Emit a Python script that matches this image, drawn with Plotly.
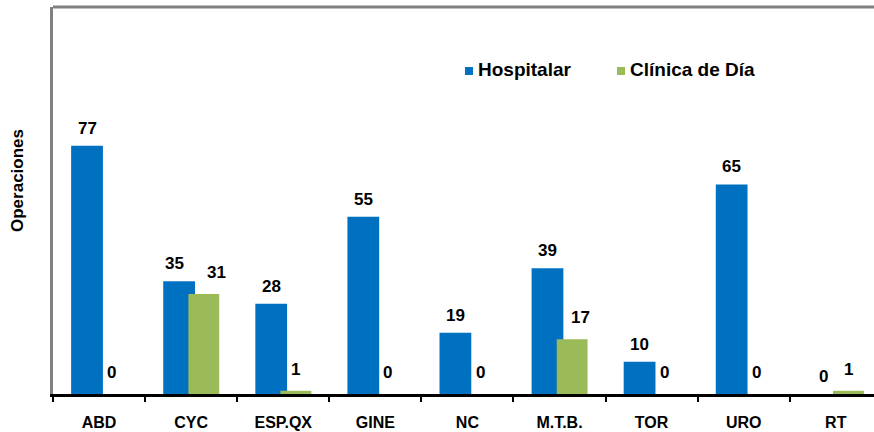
import plotly.graph_objects as go

categories = ["ABD", "CYC", "ESP.QX", "GINE", "NC", "M.T.B.", "TOR", "URO", "RT"]
hospitalar = [77, 35, 28, 55, 19, 39, 10, 65, 0]
clinica = [0, 31, 1, 0, 0, 17, 0, 0, 1]
series_names = ["Hospitalar", "Clínica de Día"]

FONT = "Liberation Sans, Arial, sans-serif"
BLUE = "#0070C0"
GREEN = "#9BBB59"

OFF_B, W_B = -0.303, 0.345
OFF_G, W_G = -0.03, 0.335

# small manual nudges of some data labels (pixels), as in the original
green_label_xshift = {1: 13, 5: 8}
blue_label_xshift = {1: -5}

fig = go.Figure()
fig.add_trace(go.Bar(
    x=categories, y=hospitalar, name=series_names[0],
    marker=dict(color=BLUE, line=dict(width=0)),
    offset=OFF_B, width=W_B, showlegend=False,
))
fig.add_trace(go.Bar(
    x=categories, y=clinica, name=series_names[1],
    marker=dict(color=GREEN, line=dict(width=0)),
    offset=OFF_G, width=W_G, showlegend=False,
))

label_font = dict(family=FONT, size=17, color="black", weight="bold")
annotations = []
for i, (h, c) in enumerate(zip(hospitalar, clinica)):
    annotations.append(dict(x=i + OFF_B + W_B / 2, y=h, xref="x", yref="y",
                            text=str(h), showarrow=False, yanchor="bottom",
                            yshift=6, xshift=blue_label_xshift.get(i, 0), font=label_font))
    annotations.append(dict(x=i + OFF_G + W_G / 2, y=c, xref="x", yref="y",
                            text=str(c), showarrow=False, yanchor="bottom",
                            yshift=10, xshift=green_label_xshift.get(i, 0), font=label_font))

W, H = 874, 432
ML, MT, MB = 53, 7, 38
pw, ph = W - ML, H - MT - MB
def px(x):
    return (x - ML) / pw
def py(y):
    return (H - MB - y) / ph

# y-axis title
annotations.append(dict(x=px(17), y=py(181), xref="paper", yref="paper", text="Operaciones",
                        showarrow=False, textangle=-90, xanchor="center", yanchor="middle",
                        font=dict(family=FONT, size=17, color="black", weight="bold")))

shapes = [dict(type="line", xref="paper", yref="paper", x0=0, x1=1.01, y0=1, y1=1,
               line=dict(color="#808080", width=3))]

# legend (manual)
leg_font = dict(family=FONT, size=19, color="black", weight="bold")
legend_items = [(series_names[0], BLUE, 465), (series_names[1], GREEN, 617)]
for name, col, x0 in legend_items:
    shapes.append(dict(type="rect", xref="paper", yref="paper",
                       x0=px(x0), x1=px(x0 + 8), y0=py(75), y1=py(67),
                       fillcolor=col, line=dict(width=0)))
    annotations.append(dict(x=px(x0 + 11), y=py(70), xref="paper", yref="paper",
                            text=name, showarrow=False, xanchor="left", yanchor="middle",
                            font=leg_font))

fig.update_layout(
    width=W, height=H,
    barmode="overlay",
    margin=dict(l=ML, r=0, t=MT, b=MB),
    plot_bgcolor="white", paper_bgcolor="white",
    font=dict(family=FONT, color="black"),
    showlegend=False,
    xaxis=dict(
        type="category", range=[-0.5, 8.415], automargin=False,
        showline=True, linecolor="black", linewidth=2.5,
        ticks="outside", tickson="boundaries", ticklen=5, tickwidth=2, tickcolor="black",
        tickfont=dict(family=FONT, size=16, color="black", weight="bold"),
        ticklabelstandoff=12,
        showgrid=False,
    ),
    yaxis=dict(
        range=[0, 120], showticklabels=False, ticks="", automargin=False,
        showline=True, linecolor="#808080", linewidth=3,
        showgrid=False, zeroline=False,
    ),
    annotations=annotations,
    shapes=shapes,
)

fig.write_html("out.html", config={"displayModeBar": False},
               post_script="document.body.style.margin='0px';document.body.style.overflow='hidden';")
